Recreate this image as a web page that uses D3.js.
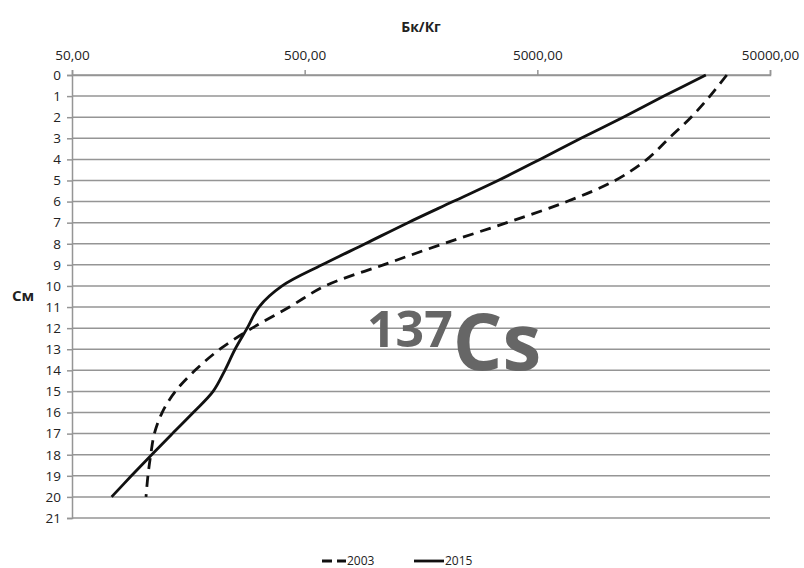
<!DOCTYPE html>
<html>
<head>
<meta charset="utf-8">
<script src="https://cdn.jsdelivr.net/npm/d3@7"></script>
<style>
  html, body { margin: 0; padding: 0; background: #fff; }
  svg { display: block; }
  text { font-family: "Open Sans", "Liberation Sans", sans-serif; fill: #222; }
</style>
</head>
<body>
<svg id="chart" width="804" height="568"></svg>
<script>
// ---- data ----
const depths = [0,1,2,3,4,5,6,7,8,9,10,11,12,13,14,15,16,17,18,19,20];
const values2003 = [32600,27600,22900,18400,14800,10800,6700,3700,1970,1090,612,430,297,216,169,139,122,113,109,106,104];
const values2015 = [26500,17500,11700,7700,5130,3390,2170,1390,910,594,400,318,283,251,227,202,166,135,110,90,74];
const xTicks = [50, 500, 5000, 50000];
const yTicks = [0,1,2,3,4,5,6,7,8,9,10,11,12,13,14,15,16,17,18,19,20,21];
const seriesNames = ["2003", "2015"];
const xTitle = "Бк/Кг";
const yTitle = "См";

// ---- layout ----
const svg = d3.select("#chart");
const pLeft = 72, pRight = 770, pTop = 75, pBottom = 518;
const x = d3.scaleLog().domain([50, 50000]).range([pLeft, pRight]);
const y = d3.scaleLinear().domain([0, 21]).range([pTop, pBottom]);

const gridColor = "#959595";

// horizontal grid lines
svg.append("g").selectAll("line").data(yTicks).join("line")
  .attr("x1", pLeft).attr("x2", pRight)
  .attr("y1", d => y(d)).attr("y2", d => y(d))
  .attr("stroke", gridColor).attr("stroke-width", 1.5);

// left axis
const yAxis = d3.axisLeft(y).tickValues(yTicks).tickSize(5).tickPadding(6).tickFormat(d => d);
const gy = svg.append("g").attr("transform", `translate(${pLeft},0)`).call(yAxis);
gy.select(".domain").attr("stroke", gridColor).attr("stroke-width", 1.5);
gy.selectAll(".tick line").attr("stroke", gridColor).attr("stroke-width", 1.5);
gy.selectAll(".tick text").attr("font-size", 13.5).attr("fill", "#222")
  .attr("font-family", "'Open Sans', sans-serif");

// top axis
const fmt = d => d3.format(".2f")(d).replace(".", ",");
const xAxis = d3.axisTop(x).tickValues(xTicks).tickSize(5).tickPadding(10).tickFormat(fmt);
const gx = svg.append("g").attr("transform", `translate(0,${pTop})`).call(xAxis);
gx.select(".domain").attr("stroke", gridColor).attr("stroke-width", 1.5);
gx.selectAll(".tick line").attr("stroke", gridColor).attr("stroke-width", 1.5);
gx.selectAll(".tick text").attr("font-size", 13.5).attr("fill", "#222")
  .attr("font-family", "'Open Sans', sans-serif");

// axis titles
svg.append("text").attr("x", 421).attr("y", 32).attr("text-anchor", "middle")
  .attr("font-size", 14).attr("font-weight", "bold").text(xTitle);
svg.append("text").attr("x", 23).attr("y", 301).attr("text-anchor", "middle")
  .attr("font-size", 15).attr("font-weight", "bold").text(yTitle);

// 137Cs label
const lab = svg.append("text").attr("x", 367).attr("y", 370)
  .attr("font-family", "'Liberation Sans', Arial, sans-serif")
  .attr("font-weight", "bold");
lab.append("tspan").attr("font-size", 50).attr("dy", -23).attr("fill", "#666").text("137");
lab.append("tspan").attr("font-size", 78).attr("dy", 23).attr("fill", "#666").text("Cs");

// lines
const line = d3.line()
  .x(d => x(d[1]))
  .y(d => y(d[0]))
  .curve(d3.curveCatmullRom.alpha(0.5));

const data2003 = depths.map((d, i) => [d, values2003[i]]);
const data2015 = depths.map((d, i) => [d, values2015[i]]);

svg.append("path").datum(data2003).attr("d", line)
  .attr("fill", "none").attr("stroke", "#111").attr("stroke-width", 2.8)
  .attr("stroke-dasharray", "11,7");
svg.append("path").datum(data2015).attr("d", line)
  .attr("fill", "none").attr("stroke", "#111").attr("stroke-width", 2.8);

// legend
const ly = 561;
const lg = svg.append("g");
lg.append("line").attr("x1", 322).attr("x2", 346).attr("y1", ly).attr("y2", ly)
  .attr("stroke", "#111").attr("stroke-width", 2.8).attr("stroke-dasharray", "10,5");
lg.append("text").attr("x", 347).attr("y", ly + 4).attr("font-size", 12).text(seriesNames[0]);
lg.append("line").attr("x1", 414).attr("x2", 444).attr("y1", ly).attr("y2", ly)
  .attr("stroke", "#111").attr("stroke-width", 2.8);
lg.append("text").attr("x", 445).attr("y", ly + 4).attr("font-size", 12).text(seriesNames[1]);
</script>
</body>
</html>
